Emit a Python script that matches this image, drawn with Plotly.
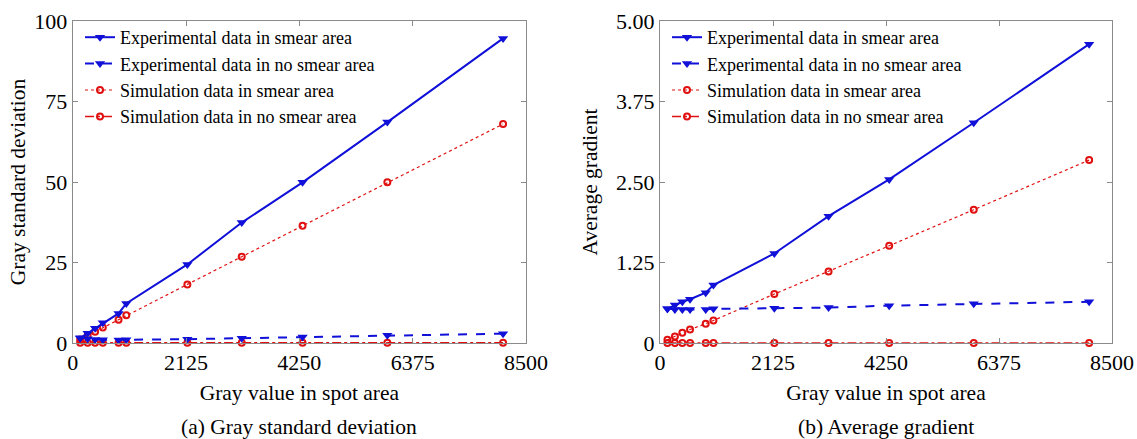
import plotly.graph_objects as go

# Gray value in the spot area (shared x positions of every series)
gray_level = [140, 280, 420, 565, 860, 1005, 2150, 3170, 4310, 5900, 8070]

# (a) Gray standard deviation
std_exp_smear = [1.5, 3.0, 4.6, 6.3, 9.2, 12.3, 24.4, 37.4, 49.9, 68.6, 94.6]
std_exp_nosmear = [1.6, 1.3, 1.1, 1.0, 0.9, 1.0, 1.2, 1.5, 1.9, 2.4, 2.9]
std_sim_smear = [1.1, 2.3, 3.5, 4.8, 7.2, 8.6, 18.2, 26.8, 36.4, 49.9, 68.0]
std_sim_nosmear = [0.1, 0.1, 0.1, 0.1, 0.1, 0.1, 0.1, 0.1, 0.1, 0.1, 0.1]

# (b) Average gradient
grad_exp_smear = [0.53, 0.59, 0.64, 0.68, 0.78, 0.90, 1.39, 1.97, 2.54, 3.42, 4.64]
grad_exp_nosmear = [0.53, 0.52, 0.52, 0.52, 0.52, 0.53, 0.54, 0.55, 0.58, 0.61, 0.64]
grad_sim_smear = [0.05, 0.10, 0.16, 0.21, 0.30, 0.35, 0.76, 1.11, 1.51, 2.07, 2.84]
grad_sim_nosmear = [0.0, 0.0, 0.0, 0.0, 0.0, 0.0, 0.0, 0.0, 0.0, 0.0, 0.0]

series_names = [
    "Experimental data in smear area",
    "Experimental data in no smear area",
    "Simulation data in smear area",
    "Simulation data in no smear area",
]

x_ticks = [0, 2125, 4250, 6375, 8500]
x_tick_text = ["0", "2125", "4250", "6375", "8500"]
std_ticks = [0, 25, 50, 75, 100]
std_tick_text = ["0", "25", "50", "75", "100"]
grad_ticks = [0, 1.25, 2.5, 3.75, 5.0]
grad_tick_text = ["0", "1.25", "2.50", "3.75", "5.00"]

BLUE = "#1010d8"
RED = "#e01010"
FONT = "Liberation Serif, Times New Roman, Times, serif"
W, H = 1137, 439

styles = [
    dict(line=dict(color=BLUE, width=2, dash="solid"),
         marker=dict(symbol="triangle-down", size=9, color=BLUE)),
    dict(line=dict(color=BLUE, width=2, dash="dash"),
         marker=dict(symbol="triangle-down", size=9, color=BLUE)),
    dict(line=dict(color=RED, width=1.2, dash="dot"),
         marker=dict(symbol="circle-open", size=6, color=RED, line=dict(width=2, color=RED))),
    dict(line=dict(color=RED, width=1.5, dash="dashdot"),
         marker=dict(symbol="circle-open", size=6, color=RED, line=dict(width=2, color=RED))),
]

fig = go.Figure()

left_series = [std_exp_smear, std_exp_nosmear, std_sim_smear, std_sim_nosmear]
right_series = [grad_exp_smear, grad_exp_nosmear, grad_sim_smear, grad_sim_nosmear]

# draw the no-smear series first so the smear curves sit on top, keep legend order
order = [3, 2, 1, 0]
for i in order:
    fig.add_trace(go.Scatter(
        x=gray_level, y=left_series[i], name=series_names[i], mode="lines+markers",
        xaxis="x", yaxis="y", legend="legend", legendrank=i, cliponaxis=False,
        **styles[i]))
for i in order:
    fig.add_trace(go.Scatter(
        x=gray_level, y=right_series[i], name=series_names[i], mode="lines+markers",
        xaxis="x2", yaxis="y2", legend="legend2", legendrank=i, cliponaxis=False,
        **styles[i]))

y_dom = [(H - 343) / H, (H - 21) / H]
left_dom = [72.7 / W, 526 / W]
right_dom = [660 / W, 1112 / W]

axis_common = dict(
    showline=True, linecolor="#8a8a8a", linewidth=1, mirror="ticks",
    ticks="inside", ticklen=5, tickcolor="#8a8a8a", showgrid=False, zeroline=False,
    automargin=False,
    tickfont=dict(family=FONT, size=22, color="black"),
)
title_font = dict(family=FONT, size=21.5, color="black")
legend_font = dict(family=FONT, size=18, color="black")

fig.update_layout(
    width=W, height=H,
    margin=dict(l=0, r=0, t=0, b=0),
    paper_bgcolor="white", plot_bgcolor="white",
    font=dict(family=FONT, color="black"),
    xaxis=dict(domain=left_dom, range=[0, 8500], tickvals=x_ticks, ticktext=x_tick_text,
               anchor="y",
               title=dict(text="Gray value in spot area", font=title_font, standoff=10),
               **axis_common),
    yaxis=dict(domain=y_dom, range=[0, 100], tickvals=std_ticks, ticktext=std_tick_text,
               anchor="x",
               title=dict(text="Gray standard deviation", font=title_font, standoff=2),
               **axis_common),
    xaxis2=dict(domain=right_dom, range=[0, 8500], tickvals=x_ticks, ticktext=x_tick_text,
                anchor="y2",
                title=dict(text="Gray value in spot area", font=title_font, standoff=10),
                **axis_common),
    yaxis2=dict(domain=y_dom, range=[0, 5], tickvals=grad_ticks, ticktext=grad_tick_text,
                anchor="x2",
                title=dict(text="Average gradient", font=title_font, standoff=12),
                **axis_common),
    legend=dict(x=80 / W, y=(H - 19) / H, xanchor="left", yanchor="top",
                bgcolor="rgba(0,0,0,0)", font=legend_font,
                tracegroupgap=0, itemwidth=30),
    legend2=dict(x=667 / W, y=(H - 19) / H, xanchor="left", yanchor="top",
                 bgcolor="rgba(0,0,0,0)", font=legend_font,
                 tracegroupgap=0, itemwidth=30),
    annotations=[
        dict(text="(a) Gray standard deviation", x=(left_dom[0] + left_dom[1]) / 2,
             y=(H - 427) / H, xref="paper", yref="paper", showarrow=False,
             xanchor="center", yanchor="middle", font=title_font),
        dict(text="(b) Average gradient", x=(right_dom[0] + right_dom[1]) / 2,
             y=(H - 427) / H, xref="paper", yref="paper", showarrow=False,
             xanchor="center", yanchor="middle", font=title_font),
    ],
)

fig.write_html("out.html")
